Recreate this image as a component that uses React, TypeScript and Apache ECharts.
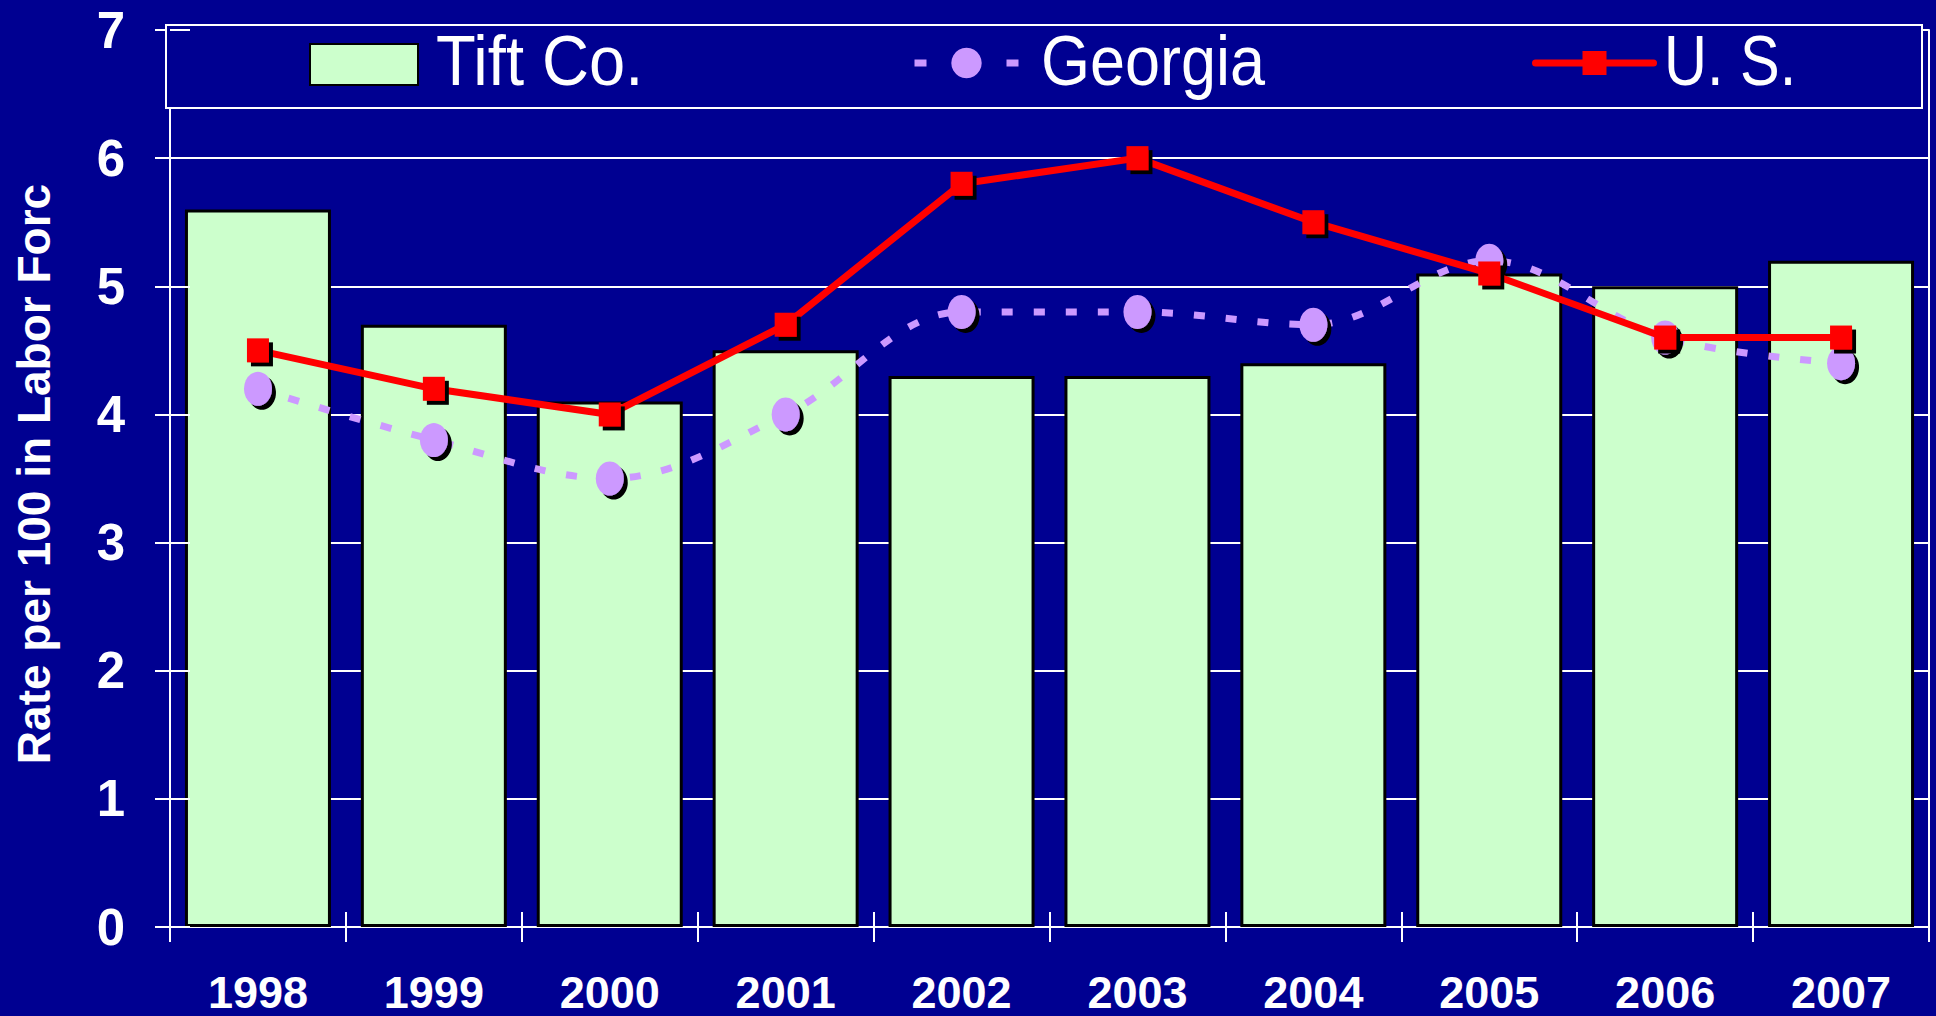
import React, { useEffect, useRef } from "react";
import * as echarts from "echarts";

const years = ["1998", "1999", "2000", "2001", "2002", "2003", "2004", "2005", "2006", "2007"];
const tiftValues = [5.6, 4.7, 4.1, 4.5, 4.3, 4.3, 4.4, 5.1, 5.0, 5.2];
const georgiaValues = [4.2, 3.8, 3.5, 4.0, 4.8, 4.8, 4.7, 5.2, 4.6, 4.4];
const usValues = [4.5, 4.2, 4.0, 4.7, 5.8, 6.0, 5.5, 5.1, 4.6, 4.6];
const seriesNames = ["Tift Co.", "Georgia", "U. S."];
const yMin = 0;
const yMax = 7;
const yStep = 1;
const yTitle = "Rate per 100 in Labor Forc";

const BG = "#000091";
const BAR = "#CCFFCC";
const GA = "#CC99FF";
const US = "#FF0000";
const SANS = "'Liberation Sans', Arial, sans-serif";

export default function App() {
  const ref = useRef<HTMLDivElement>(null);
  useEffect(() => {
    document.body.style.margin = "0";
    document.body.style.background = BG;
    const chart = echarts.init(ref.current!, null, { renderer: "svg" });
    const legendLabel = (text: string, x: number, sx: number) => ({
      type: "text", x, y: 61, scaleX: sx, z: 10,
      style: {
        text, fill: "#ffffff", fontSize: 70, fontFamily: SANS,
        align: "left", verticalAlign: "middle",
      },
    });
    chart.setOption({
      animation: false,
      backgroundColor: BG,
      grid: { left: 170, right: 7, top: 30, bottom: 89, containLabel: false },
      legend: [
        {
          data: [seriesNames[0]], left: 309, top: 43, padding: 0, icon: "rect",
          itemWidth: 108, itemHeight: 41, formatter: () => "",
        },
        {
          data: [seriesNames[1]], left: 911, top: 44, padding: 0,
          itemWidth: 104, itemHeight: 38, formatter: () => "",
          lineStyle: { type: [12, 80], width: 7 },
          itemStyle: { shadowColor: "transparent", shadowOffsetX: 0, shadowOffsetY: 0 },
        },
        {
          data: [seriesNames[2]], left: 1532, top: 48, padding: 0,
          itemWidth: 118, itemHeight: 30, formatter: () => "",
          lineStyle: { cap: "round", width: 7 },
          itemStyle: { shadowColor: "transparent", shadowOffsetX: 0, shadowOffsetY: 0 },
        },
      ],
      xAxis: [
        {
          type: "category", data: years, position: "bottom",
          axisLine: { lineStyle: { color: "#ffffff", width: 2 } },
          axisTick: { show: true, length: 15, lineStyle: { color: "#ffffff", width: 2 } },
          axisLabel: {
            color: "#ffffff", fontSize: 45, fontWeight: "bold", fontFamily: SANS,
            margin: 47, lineHeight: 36,
          },
          splitLine: { show: false },
        },
        {
          type: "category", data: years, position: "bottom", z: 5,
          axisLine: { show: false },
          axisTick: { show: true, inside: true, length: 15, lineStyle: { color: "#ffffff", width: 2 } },
          axisLabel: { show: false },
          splitLine: { show: false },
        },
      ],
      yAxis: [
        {
          type: "value", min: yMin, max: yMax, interval: yStep, position: "left",
          axisLine: { show: true, lineStyle: { color: "#ffffff", width: 2 } },
          axisTick: { show: true, length: 15, lineStyle: { color: "#ffffff", width: 2 } },
          axisLabel: { color: "#ffffff", fontSize: 51, fontWeight: "bold", fontFamily: SANS, margin: 45 },
          splitLine: { show: true, lineStyle: { color: "#ffffff", width: 2 } },
        },
        {
          type: "value", min: yMin, max: yMax, interval: yStep, position: "right",
          axisLine: { show: true, lineStyle: { color: "#ffffff", width: 2 } },
          axisTick: { show: false }, axisLabel: { show: false }, splitLine: { show: false },
        },
        {
          type: "value", min: yMin, max: yMax, interval: yStep, position: "left", z: 5,
          axisLine: { show: false },
          axisTick: { show: true, inside: true, length: 20, lineStyle: { color: "#ffffff", width: 2 } },
          axisLabel: { show: false }, splitLine: { show: false },
        },
      ],
      graphic: [
        {
          type: "rect", z: 3,
          shape: { x: 166, y: 25, width: 1756, height: 83 },
          style: { fill: BG, stroke: "#ffffff", lineWidth: 2 },
        },
        legendLabel(seriesNames[0], 436, 0.93),
        legendLabel(seriesNames[1], 1041, 0.9),
        legendLabel(seriesNames[2], 1664, 0.85),
        {
          type: "text", x: 34, y: 474, rotation: Math.PI / 2,
          style: {
            text: yTitle, fill: "#ffffff", fontSize: 46, fontWeight: "bold", fontFamily: SANS,
            align: "center", verticalAlign: "middle",
          },
        },
      ],
      series: [
        {
          name: seriesNames[0], type: "bar", data: tiftValues, barCategoryGap: "17%",
          itemStyle: { color: BAR, borderColor: "#000000", borderWidth: 3 },
        },
        {
          name: seriesNames[1], type: "line", data: georgiaValues, smooth: 0.35,
          symbol: "circle", symbolSize: [28, 34],
          lineStyle: { color: GA, width: 7, type: [11, 21], cap: "butt" },
          itemStyle: { color: GA, shadowColor: "#000000", shadowOffsetX: 4, shadowOffsetY: 4, shadowBlur: 0 },
          z: 3,
        },
        {
          name: seriesNames[2], type: "line", data: usValues,
          symbol: "rect", symbolSize: [22, 24],
          lineStyle: { color: US, width: 7 },
          itemStyle: { color: US, shadowColor: "#000000", shadowOffsetX: 4, shadowOffsetY: 4, shadowBlur: 0 },
          z: 4,
        },
      ],
    });
    return () => chart.dispose();
  }, []);
  return <div ref={ref} style={{ position: "fixed", left: 0, top: 0, width: 1936, height: 1016 }} />;
}
